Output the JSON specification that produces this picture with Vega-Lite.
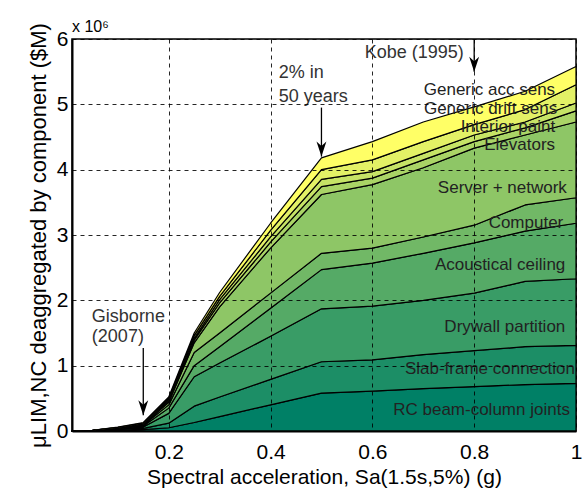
{
  "$schema": "https://vega.github.io/schema/vega-lite/v6.json",
  "width": 504,
  "height": 392,
  "autosize": {"type": "none"},
  "padding": {"left": 72, "top": 39, "right": 8, "bottom": 59},
  "background": "white",
  "config": {"view": {"stroke": "#000", "strokeWidth": 1.5}, "font": "Liberation Sans"},
  "title": {"text": "x 10⁶", "anchor": "start", "frame": "group", "fontSize": 16, "fontWeight": "normal", "offset": -12, "color": "#000", "font": "Liberation Sans"},
  "datasets": {
    "areas": [
      {"x":0.01,"c":"RC beam-column joints","o":1,"v":0},{"x":0.01,"c":"Slab-frame connection","o":2,"v":0},{"x":0.01,"c":"Drywall partition","o":3,"v":0},{"x":0.01,"c":"Acoustical ceiling","o":4,"v":0},{"x":0.01,"c":"Computer","o":5,"v":0},{"x":0.01,"c":"Server + network","o":6,"v":0},{"x":0.01,"c":"Elevators","o":7,"v":0},{"x":0.01,"c":"Interior paint","o":8,"v":0},{"x":0.01,"c":"Generic drift sens","o":9,"v":0},{"x":0.01,"c":"Generic acc sens","o":10,"v":0},
      {"x":0.05,"c":"RC beam-column joints","o":1,"v":0.002},{"x":0.05,"c":"Slab-frame connection","o":2,"v":0.002},{"x":0.05,"c":"Drywall partition","o":3,"v":0.001},{"x":0.05,"c":"Acoustical ceiling","o":4,"v":0.001},{"x":0.05,"c":"Computer","o":5,"v":0.001},{"x":0.05,"c":"Server + network","o":6,"v":0.001},{"x":0.05,"c":"Elevators","o":7,"v":0.0005},{"x":0.05,"c":"Interior paint","o":8,"v":0.0005},{"x":0.05,"c":"Generic drift sens","o":9,"v":0.0005},{"x":0.05,"c":"Generic acc sens","o":10,"v":0.0005},
      {"x":0.1,"c":"RC beam-column joints","o":1,"v":0.01},{"x":0.1,"c":"Slab-frame connection","o":2,"v":0.01},{"x":0.1,"c":"Drywall partition","o":3,"v":0.01},{"x":0.1,"c":"Acoustical ceiling","o":4,"v":0.005},{"x":0.1,"c":"Computer","o":5,"v":0.005},{"x":0.1,"c":"Server + network","o":6,"v":0.005},{"x":0.1,"c":"Elevators","o":7,"v":0.003},{"x":0.1,"c":"Interior paint","o":8,"v":0.003},{"x":0.1,"c":"Generic drift sens","o":9,"v":0.004},{"x":0.1,"c":"Generic acc sens","o":10,"v":0.005},
      {"x":0.15,"c":"RC beam-column joints","o":1,"v":0.02},{"x":0.15,"c":"Slab-frame connection","o":2,"v":0.02},{"x":0.15,"c":"Drywall partition","o":3,"v":0.02},{"x":0.15,"c":"Acoustical ceiling","o":4,"v":0.015},{"x":0.15,"c":"Computer","o":5,"v":0.015},{"x":0.15,"c":"Server + network","o":6,"v":0.01},{"x":0.15,"c":"Elevators","o":7,"v":0.005},{"x":0.15,"c":"Interior paint","o":8,"v":0.005},{"x":0.15,"c":"Generic drift sens","o":9,"v":0.01},{"x":0.15,"c":"Generic acc sens","o":10,"v":0.01},
      {"x":0.2,"c":"RC beam-column joints","o":1,"v":0.05},{"x":0.2,"c":"Slab-frame connection","o":2,"v":0.07},{"x":0.2,"c":"Drywall partition","o":3,"v":0.15},{"x":0.2,"c":"Acoustical ceiling","o":4,"v":0.08},{"x":0.2,"c":"Computer","o":5,"v":0.05},{"x":0.2,"c":"Server + network","o":6,"v":0.04},{"x":0.2,"c":"Elevators","o":7,"v":0.02},{"x":0.2,"c":"Interior paint","o":8,"v":0.02},{"x":0.2,"c":"Generic drift sens","o":9,"v":0.02},{"x":0.2,"c":"Generic acc sens","o":10,"v":0.02},
      {"x":0.25,"c":"RC beam-column joints","o":1,"v":0.13},{"x":0.25,"c":"Slab-frame connection","o":2,"v":0.25},{"x":0.25,"c":"Drywall partition","o":3,"v":0.45},{"x":0.25,"c":"Acoustical ceiling","o":4,"v":0.17},{"x":0.25,"c":"Computer","o":5,"v":0.2},{"x":0.25,"c":"Server + network","o":6,"v":0.15},{"x":0.25,"c":"Elevators","o":7,"v":0.04},{"x":0.25,"c":"Interior paint","o":8,"v":0.03},{"x":0.25,"c":"Generic drift sens","o":9,"v":0.04},{"x":0.25,"c":"Generic acc sens","o":10,"v":0.04},
      {"x":0.3,"c":"RC beam-column joints","o":1,"v":0.22},{"x":0.3,"c":"Slab-frame connection","o":2,"v":0.3},{"x":0.3,"c":"Drywall partition","o":3,"v":0.52},{"x":0.3,"c":"Acoustical ceiling","o":4,"v":0.25},{"x":0.3,"c":"Computer","o":5,"v":0.21},{"x":0.3,"c":"Server + network","o":6,"v":0.4},{"x":0.3,"c":"Elevators","o":7,"v":0.06},{"x":0.3,"c":"Interior paint","o":8,"v":0.05},{"x":0.3,"c":"Generic drift sens","o":9,"v":0.05},{"x":0.3,"c":"Generic acc sens","o":10,"v":0.06},
      {"x":0.4,"c":"RC beam-column joints","o":1,"v":0.4},{"x":0.4,"c":"Slab-frame connection","o":2,"v":0.39},{"x":0.4,"c":"Drywall partition","o":3,"v":0.66},{"x":0.4,"c":"Acoustical ceiling","o":4,"v":0.43},{"x":0.4,"c":"Computer","o":5,"v":0.23},{"x":0.4,"c":"Server + network","o":6,"v":0.69},{"x":0.4,"c":"Elevators","o":7,"v":0.09},{"x":0.4,"c":"Interior paint","o":8,"v":0.08},{"x":0.4,"c":"Generic drift sens","o":9,"v":0.1},{"x":0.4,"c":"Generic acc sens","o":10,"v":0.11},
      {"x":0.5,"c":"RC beam-column joints","o":1,"v":0.58},{"x":0.5,"c":"Slab-frame connection","o":2,"v":0.48},{"x":0.5,"c":"Drywall partition","o":3,"v":0.81},{"x":0.5,"c":"Acoustical ceiling","o":4,"v":0.6},{"x":0.5,"c":"Computer","o":5,"v":0.25},{"x":0.5,"c":"Server + network","o":6,"v":0.9},{"x":0.5,"c":"Elevators","o":7,"v":0.12},{"x":0.5,"c":"Interior paint","o":8,"v":0.11},{"x":0.5,"c":"Generic drift sens","o":9,"v":0.15},{"x":0.5,"c":"Generic acc sens","o":10,"v":0.18},
      {"x":0.6,"c":"RC beam-column joints","o":1,"v":0.61},{"x":0.6,"c":"Slab-frame connection","o":2,"v":0.48},{"x":0.6,"c":"Drywall partition","o":3,"v":0.82},{"x":0.6,"c":"Acoustical ceiling","o":4,"v":0.66},{"x":0.6,"c":"Computer","o":5,"v":0.23},{"x":0.6,"c":"Server + network","o":6,"v":0.97},{"x":0.6,"c":"Elevators","o":7,"v":0.1},{"x":0.6,"c":"Interior paint","o":8,"v":0.1},{"x":0.6,"c":"Generic drift sens","o":9,"v":0.18},{"x":0.6,"c":"Generic acc sens","o":10,"v":0.28},
      {"x":0.7,"c":"RC beam-column joints","o":1,"v":0.65},{"x":0.7,"c":"Slab-frame connection","o":2,"v":0.52},{"x":0.7,"c":"Drywall partition","o":3,"v":0.83},{"x":0.7,"c":"Acoustical ceiling","o":4,"v":0.72},{"x":0.7,"c":"Computer","o":5,"v":0.25},{"x":0.7,"c":"Server + network","o":6,"v":1.06},{"x":0.7,"c":"Elevators","o":7,"v":0.12},{"x":0.7,"c":"Interior paint","o":8,"v":0.1},{"x":0.7,"c":"Generic drift sens","o":9,"v":0.18},{"x":0.7,"c":"Generic acc sens","o":10,"v":0.3},
      {"x":0.8,"c":"RC beam-column joints","o":1,"v":0.68},{"x":0.8,"c":"Slab-frame connection","o":2,"v":0.55},{"x":0.8,"c":"Drywall partition","o":3,"v":0.88},{"x":0.8,"c":"Acoustical ceiling","o":4,"v":0.77},{"x":0.8,"c":"Computer","o":5,"v":0.27},{"x":0.8,"c":"Server + network","o":6,"v":1.18},{"x":0.8,"c":"Elevators","o":7,"v":0.1},{"x":0.8,"c":"Interior paint","o":8,"v":0.1},{"x":0.8,"c":"Generic drift sens","o":9,"v":0.16},{"x":0.8,"c":"Generic acc sens","o":10,"v":0.27},
      {"x":0.9,"c":"RC beam-column joints","o":1,"v":0.71},{"x":0.9,"c":"Slab-frame connection","o":2,"v":0.58},{"x":0.9,"c":"Drywall partition","o":3,"v":1.0},{"x":0.9,"c":"Acoustical ceiling","o":4,"v":0.77},{"x":0.9,"c":"Computer","o":5,"v":0.4},{"x":0.9,"c":"Server + network","o":6,"v":1.07},{"x":0.9,"c":"Elevators","o":7,"v":0.11},{"x":0.9,"c":"Interior paint","o":8,"v":0.09},{"x":0.9,"c":"Generic drift sens","o":9,"v":0.19},{"x":0.9,"c":"Generic acc sens","o":10,"v":0.28},
      {"x":1.0,"c":"RC beam-column joints","o":1,"v":0.73},{"x":1.0,"c":"Slab-frame connection","o":2,"v":0.58},{"x":1.0,"c":"Drywall partition","o":3,"v":1.02},{"x":1.0,"c":"Acoustical ceiling","o":4,"v":0.85},{"x":1.0,"c":"Computer","o":5,"v":0.39},{"x":1.0,"c":"Server + network","o":6,"v":1.16},{"x":1.0,"c":"Elevators","o":7,"v":0.17},{"x":1.0,"c":"Interior paint","o":8,"v":0.12},{"x":1.0,"c":"Generic drift sens","o":9,"v":0.28},{"x":1.0,"c":"Generic acc sens","o":10,"v":0.28}
    ],
    "labels": [
      {"x":0.959,"y":5.22,"label":"Generic acc sens"},
      {"x":0.963,"y":4.93,"label":"Generic drift sens"},
      {"x":0.959,"y":4.65,"label":"Interior paint"},
      {"x":0.959,"y":4.38,"label":"Elevators"},
      {"x":0.982,"y":3.72,"label":"Server + network"},
      {"x":0.975,"y":3.18,"label":"Computer"},
      {"x":0.979,"y":2.54,"label":"Acoustical ceiling"},
      {"x":0.979,"y":1.59,"label":"Drywall partition"},
      {"x":0.998,"y":0.95,"label":"Slab-frame connection"},
      {"x":0.988,"y":0.32,"label":"RC beam-column joints"}
    ],
    "notes": [
      {"x":0.585,"y":5.79,"label":"Kobe (1995)"},
      {"x":0.416,"y":5.48,"label":"2% in"},
      {"x":0.416,"y":5.11,"label":"50 years"},
      {"x":0.049,"y":1.75,"label":"Gisborne"},
      {"x":0.049,"y":1.44,"label":"(2007)"}
    ],
    "arrows": [
      {"x":0.8,"y1":6.0,"y2":5.5},
      {"x":0.5,"y1":4.95,"y2":4.2},
      {"x":0.15,"y1":1.27,"y2":0.24}
    ]
  },
  "layer": [
    {
      "data": {"name": "areas"},
      "mark": {"type": "area", "stroke": "#000", "strokeWidth": 1.2, "strokeJoin": "round"},
      "encoding": {
        "x": {"field": "x", "type": "quantitative", "scale": {"domain": [0.01, 1], "nice": false, "zero": false},
              "title": "Spectral acceleration, Sa(1.5s,5%) (g)",
              "axis": {"values": [0.2, 0.4, 0.6, 0.8, 1], "format": "~g", "title": "Spectral acceleration, Sa(1.5s,5%) (g)",
                       "titleFontSize": 21, "titleFontWeight": "normal", "titleColor": "#000", "titlePadding": 4,
                       "labelFontSize": 21, "labelColor": "#000", "labelPadding": 10, "ticks": false, "tickSize": 0,
                       "domainColor": "#000", "domainWidth": 2, "grid": true, "gridColor": "#000", "gridDash": [4, 4],
                       "gridWidth": 1, "gridOpacity": 0.85, "labelFlush": false, "zindex": 1}},
        "y": {"field": "v", "type": "quantitative", "stack": "zero", "scale": {"domain": [0, 6], "nice": false},
              "title": "μLIM,NC deaggregated by component ($M)",
              "axis": {"values": [0, 1, 2, 3, 4, 5, 6], "format": "d", "title": "μLIM,NC deaggregated by component ($M)",
                       "titleFontSize": 22, "titleFontWeight": "normal", "titleColor": "#000", "titleX": -22, "titleY": 196,
                       "labelFontSize": 21, "labelColor": "#000", "labelPadding": 4, "ticks": false, "tickSize": 0,
                       "domainColor": "#000", "domainWidth": 2, "grid": true, "gridColor": "#000", "gridDash": [4, 4],
                       "gridWidth": 1, "gridOpacity": 0.85, "labelFlush": false, "zindex": 1}},
        "color": {"field": "c", "type": "nominal", "legend": null,
                  "scale": {"domain": ["RC beam-column joints", "Slab-frame connection", "Drywall partition", "Acoustical ceiling", "Computer", "Server + network", "Elevators", "Interior paint", "Generic drift sens", "Generic acc sens"],
                            "range": ["#008066", "#1c8e66", "#399c66", "#55aa66", "#71b866", "#8ec666", "#aad466", "#c6e366", "#e3f166", "#ffff66"]}},
        "order": {"field": "o", "type": "quantitative"}
      }
    },
    {
      "data": {"name": "labels"},
      "mark": {"type": "text", "align": "right", "baseline": "middle", "fontSize": 17, "color": "#222", "font": "Liberation Sans"},
      "encoding": {
        "x": {"field": "x", "type": "quantitative", "title": "Spectral acceleration, Sa(1.5s,5%) (g)"},
        "y": {"field": "y", "type": "quantitative", "title": "μLIM,NC deaggregated by component ($M)"},
        "text": {"field": "label"}
      }
    },
    {
      "data": {"name": "notes"},
      "mark": {"type": "text", "align": "left", "baseline": "middle", "fontSize": 18, "color": "#333", "font": "Liberation Sans"},
      "encoding": {
        "x": {"field": "x", "type": "quantitative", "title": "Spectral acceleration, Sa(1.5s,5%) (g)"},
        "y": {"field": "y", "type": "quantitative", "title": "μLIM,NC deaggregated by component ($M)"},
        "text": {"field": "label"}
      }
    },
    {
      "data": {"name": "arrows"},
      "mark": {"type": "rule", "color": "#000", "strokeWidth": 1.3},
      "encoding": {
        "x": {"field": "x", "type": "quantitative", "title": "Spectral acceleration, Sa(1.5s,5%) (g)"},
        "y": {"field": "y1", "type": "quantitative", "title": "μLIM,NC deaggregated by component ($M)"},
        "y2": {"field": "y2"}
      }
    },
    {
      "data": {"name": "arrows"},
      "mark": {"type": "point", "shape": "M0,0L-0.33,-1L0,-0.7L0.33,-1Z", "filled": true, "fill": "#000", "strokeWidth": 0, "size": 900, "opacity": 1},
      "encoding": {
        "x": {"field": "x", "type": "quantitative", "title": "Spectral acceleration, Sa(1.5s,5%) (g)"},
        "y": {"field": "y2", "type": "quantitative", "title": "μLIM,NC deaggregated by component ($M)"}
      }
    }
  ]
}
